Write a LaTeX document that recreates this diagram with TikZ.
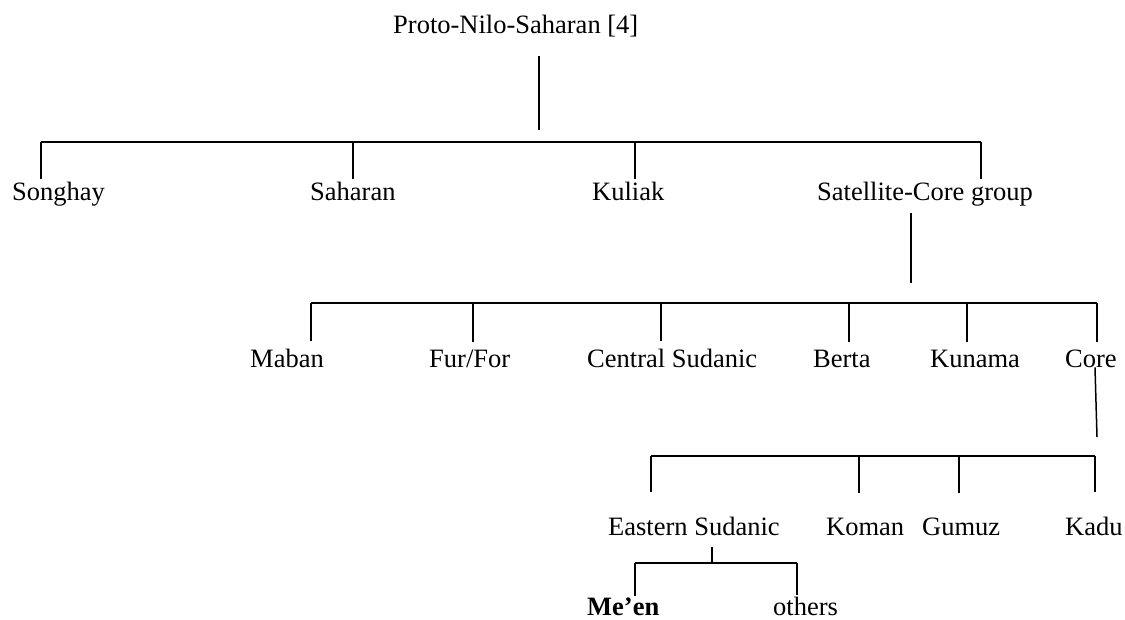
\documentclass[tikz,border=0pt]{standalone}
\usepackage{fontspec}
\setmainfont{Liberation Serif}
\usepackage{tikz}
\usetikzlibrary{positioning, calc}

\begin{document}
\begin{tikzpicture}[x=1pt, y=-1pt,
    lang/.style={font=\fontsize{26.5}{30}\selectfont, inner sep=0pt, anchor=base west},
    branch/.style={line width=1.5pt}]
    \useasboundingbox (0,0) rectangle (1125,619);
    % Root
    \node[lang] (proto) at (393,33) {Proto-Nilo-Saharan [4]};
    \coordinate (stem1) at (539,130);
    \draw[branch, shorten <=19pt] (proto.south -| stem1) -- (stem1);
    % First split
    \node[lang] (songhay) at (12,200) {Songhay};
    \node[lang] (saharan) at (310,200) {Saharan};
    \node[lang] (kuliak) at (592,200) {Kuliak};
    \node[lang] (satcore) at (817,200) {Satellite-Core group};
    \coordinate (bus1w) at (41,142);
    \coordinate (bus1e) at (981,142);
    \draw[branch] (bus1w) -- (bus1e);
    \foreach \x/\n in {41/songhay, 353/saharan, 635/kuliak, 981/satcore}
      \draw[branch, shorten >=2pt] (\x,142) -- (\x,0 |- \n.north);
    % Satellite-Core group
    \coordinate (stem2) at (911,283);
    \draw[branch, shorten <=7pt] (satcore.south -| stem2) -- (stem2);
    \node[lang] (maban) at (250,367) {Maban};
    \node[lang] (furfor) at (429,367) {Fur/For};
    \node[lang] (censud) at (587,367) {Central Sudanic};
    \node[lang] (berta) at (813,367) {Berta};
    \node[lang] (kunama) at (930,367) {Kunama};
    \node[lang] (core) at (1065,367) {Core};
    \coordinate (bus2w) at (311,303);
    \coordinate (bus2e) at (1097,303);
    \draw[branch] (bus2w) -- (bus2e);
    \foreach \x/\n in {311/maban, 473/furfor, 661/censud, 849/berta, 967/kunama, 1097/core}
      \draw[branch, shorten >=7pt] (\x,303) -- (\x,0 |- \n.north);
    % Core
    \coordinate (stem3) at (1097,437);
    \draw[branch] (1095,0 |- core.south) -- (stem3);
    \node[lang] (eastsud) at (608,535) {Eastern Sudanic};
    \node[lang] (koman) at (826,535) {Koman};
    \node[lang] (gumuz) at (922,535) {Gumuz};
    \node[lang] (kadu) at (1065,535) {Kadu};
    \coordinate (bus3w) at (651,456);
    \coordinate (bus3e) at (1095,456);
    \draw[branch] (bus3w) -- (bus3e);
    \foreach \x/\n in {651/eastsud, 859/koman, 959/gumuz, 1095/kadu}
      \draw[branch, shorten >=24pt] (\x,456) -- (\x,0 |- \n.north);
    % Eastern Sudanic
    \coordinate (stem4) at (712,563);
    \draw[branch, shorten <=12pt] (eastsud.south -| stem4) -- (stem4);
    \node[lang, font=\fontsize{26.5}{30}\selectfont\bfseries] (meen) at (587,615) {Me’en};
    \node[lang] (others) at (773,615) {others};
    \coordinate (bus4w) at (635,563);
    \coordinate (bus4e) at (797,563);
    \draw[branch] (bus4w) -- (bus4e);
    \foreach \x/\n in {635/meen, 797/others}
      \draw[branch, shorten >=1pt] (\x,563) -- (\x,0 |- \n.north);
\end{tikzpicture}
\end{document}
